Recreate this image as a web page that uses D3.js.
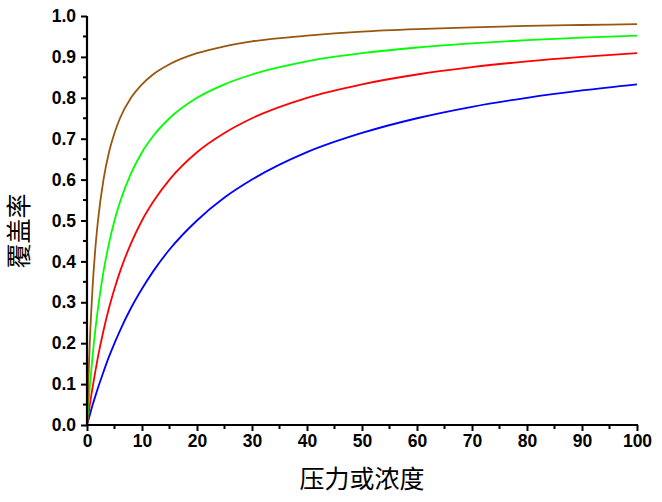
<!DOCTYPE html>
<html><head><meta charset="utf-8">
<script src="https://cdn.jsdelivr.net/npm/d3@7"></script>
<style>
html,body{margin:0;padding:0;background:#fff;}
svg{display:block;}
</style></head>
<body>
<script>
// Values
const xValues = [0, 0.25, 0.5, 1, 1.5, 2, 3, 4, 5, 6, 8, 10, 12, 15, 20, 25, 30, 40, 50, 60, 70, 80, 90, 100];
const blueValues  = [0, 0.012, 0.024, 0.048, 0.070, 0.091, 0.130, 0.167, 0.200, 0.231, 0.286, 0.333, 0.375, 0.429, 0.500, 0.556, 0.600, 0.667, 0.714, 0.750, 0.778, 0.800, 0.818, 0.833];
const redValues   = [0, 0.024, 0.048, 0.091, 0.130, 0.167, 0.231, 0.286, 0.333, 0.375, 0.444, 0.500, 0.545, 0.600, 0.667, 0.714, 0.750, 0.800, 0.833, 0.857, 0.875, 0.889, 0.900, 0.909];
const greenValues = [0, 0.048, 0.091, 0.167, 0.231, 0.286, 0.375, 0.444, 0.500, 0.545, 0.615, 0.667, 0.706, 0.750, 0.800, 0.833, 0.857, 0.889, 0.909, 0.923, 0.933, 0.941, 0.947, 0.952];
const brownValues = [0, 0.111, 0.200, 0.333, 0.429, 0.500, 0.600, 0.667, 0.714, 0.750, 0.800, 0.833, 0.857, 0.882, 0.909, 0.926, 0.938, 0.952, 0.962, 0.968, 0.972, 0.976, 0.978, 0.980];
const xTicks = [0, 10, 20, 30, 40, 50, 60, 70, 80, 90, 100];
const yTicks = [0.0, 0.1, 0.2, 0.3, 0.4, 0.5, 0.6, 0.7, 0.8, 0.9, 1.0];
const xTitle = "压力或浓度";
const yTitle = "覆盖率";

const series = [
  {values: blueValues, color: "#0000FF"},
  {values: redValues, color: "#FF0000"},
  {values: greenValues, color: "#00FF00"},
  {values: brownValues, color: "#99560E"}
];

const W = 662, H = 502;
const svg = d3.select("body").append("svg").attr("width", W).attr("height", H);

const x = d3.scaleLinear().domain([0, 100]).range([87, 637]);
const y = d3.scaleLinear().domain([0, 1]).range([425, 16]);

const line = d3.line().x(d => x(d[0])).y(d => y(d[1])).curve(d3.curveMonotoneX);

const plot = svg.append("g");
series.forEach(s => {
  plot.append("path")
    .datum(xValues.map((xv, i) => [xv, s.values[i]]))
    .attr("fill", "none")
    .attr("stroke", s.color)
    .attr("stroke-width", 1.8)
    .attr("d", line);
});

const tickFont = "'Liberation Sans', Arial, sans-serif";

// minor ticks
const xMinor = d3.range(5, 100, 10);
const yMinor = d3.range(0.05, 1, 0.1);

const gx = svg.append("g").attr("transform", `translate(0,${y(0)})`)
  .call(d3.axisBottom(x).tickValues(xTicks).tickFormat(d3.format("d")).tickSize(6).tickSizeOuter(0).tickPadding(4));
gx.selectAll(".minor").data(xMinor).enter().append("line")
  .attr("x1", d => x(d)).attr("x2", d => x(d)).attr("y1", 0).attr("y2", 4)
  .attr("stroke", "#000").attr("stroke-width", 2);

const gy = svg.append("g").attr("transform", `translate(${x(0)},0)`)
  .call(d3.axisLeft(y).tickValues(yTicks).tickFormat(d3.format(".1f")).tickSize(6).tickSizeOuter(0).tickPadding(5));
gy.selectAll(".minor").data(yMinor).enter().append("line")
  .attr("y1", d => y(d)).attr("y2", d => y(d)).attr("x1", 0).attr("x2", -4)
  .attr("stroke", "#000").attr("stroke-width", 2);

[gx, gy].forEach(g => {
  g.select(".domain").attr("stroke", "#000").attr("stroke-width", 2.2);
  g.selectAll(".tick line").attr("stroke", "#000").attr("stroke-width", 2);
  g.selectAll(".tick text").attr("fill", "#000")
    .style("font-family", tickFont).style("font-weight", "bold").style("font-size", "17.5px");
});
gx.select(".domain").attr("d", `M${x(0)-1},0H${x(100)+1}`);
gy.select(".domain").attr("d", `M0,${y(0)+1}V${y(1)}`);

svg.append("text")
  .attr("x", 362).attr("y", 488)
  .attr("text-anchor", "middle")
  .style("font-family", "'Noto Sans CJK SC', sans-serif")
  .style("font-size", "25px")
  .attr("fill", "#000")
  .text(xTitle);

svg.append("text")
  .attr("transform", "translate(28,231) rotate(-90)")
  .attr("text-anchor", "middle")
  .style("font-family", "'Noto Sans CJK SC', sans-serif")
  .style("font-size", "25px")
  .attr("fill", "#000")
  .text(yTitle);
</script>
</body></html>
